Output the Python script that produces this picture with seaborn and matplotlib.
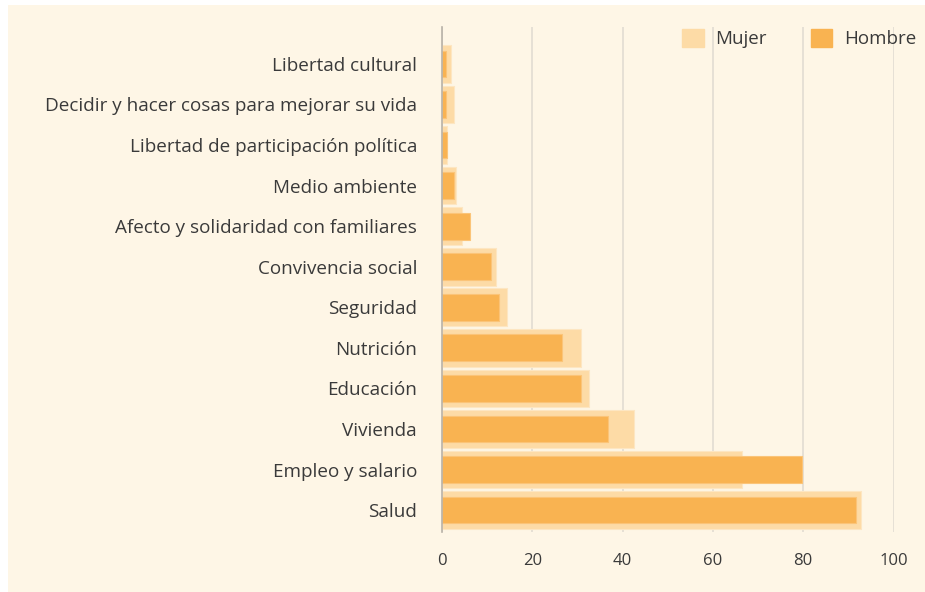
import matplotlib.pyplot as plt
import matplotlib.patches as mpatches
import pandas as pd
import seaborn as sns

# ===== DATA =====
temas = [
    "Libertad cultural",
    "Decidir y hacer cosas para mejorar su vida",
    "Libertad de participación política",
    "Medio ambiente",
    "Afecto y solidaridad con familiares",
    "Convivencia social",
    "Seguridad",
    "Nutrición",
    "Educación",
    "Vivienda",
    "Empleo y salario",
    "Salud",
]
mujer = [1.9, 2.7, 1.0, 3.2, 4.4, 11.9, 14.5, 30.8, 32.5, 42.5, 66.4, 92.8]
hombre = [0.8, 0.8, 1.2, 2.6, 6.2, 10.9, 12.6, 26.5, 30.8, 36.7, 79.8, 91.7]
x_ticks = [0, 20, 40, 60, 80, 100]

BG = "#fef6e6"
C_MUJER = "#fddba6"
C_HOMBRE = "#f9b351"
TXT = "#3a3a3a"

df = pd.DataFrame({"tema": temas, "Mujer": mujer, "Hombre": hombre})

sns.set_style("white")
plt.rcParams["font.family"] = ["Open Sans", "DejaVu Sans"]

fig = plt.figure(figsize=(9.25, 5.92), dpi=100, facecolor="white")
fig.patches.append(mpatches.Rectangle((8 / 925, 0), 1, 1 - 5 / 592,
                                      transform=fig.transFigure,
                                      facecolor=BG, edgecolor="none", zorder=-10))
ax = fig.add_axes([442 / 925, 1 - 532 / 592, (893.5 - 442) / 925, (532 - 27) / 592])
ax.set_facecolor(BG)

# ===== BARS =====
sns.barplot(data=df, y="tema", x="Mujer", order=temas, orient="h",
            color=C_MUJER, width=0.93, saturation=1, ax=ax,
            edgecolor="#fde6c2", linewidth=0.8, zorder=2)
sns.barplot(data=df, y="tema", x="Hombre", order=temas, orient="h",
            color=C_HOMBRE, width=0.66, saturation=1, ax=ax,
            edgecolor="#fbc478", linewidth=0.8, zorder=3)

ax.set_xlim(0, 100)
ax.set_ylim(11 + 0.54, -0.91)
ax.set_xticks(x_ticks)
ax.set_xlabel("")
ax.set_ylabel("")

ax.grid(axis="x", color="#e2dcd2", linewidth=1.2, zorder=0)
ax.grid(axis="y", visible=False)
for side in ["top", "right", "bottom"]:
    ax.spines[side].set_visible(False)
ax.spines["left"].set_color("#b8b2a8")
ax.spines["left"].set_linewidth(1.2)
ax.spines["left"].set_zorder(4)

ax.tick_params(axis="y", length=0, pad=18, labelsize=13.6, labelcolor=TXT)
ax.tick_params(axis="x", length=0, pad=15, labelsize=12, labelcolor=TXT)

# ===== LEGEND =====
handles = [mpatches.Patch(color=C_MUJER, label="Mujer"),
           mpatches.Patch(color=C_HOMBRE, label="Hombre")]
leg = ax.legend(handles=handles, loc="upper right", ncol=2, frameon=False,
                bbox_to_anchor=(1.087, 1.03), fontsize=13.5,
                handlelength=1.15, handleheight=1.15, handletextpad=0.6,
                columnspacing=2.35)
for t in leg.get_texts():
    t.set_color(TXT)

plt.savefig("out.png", dpi=100, facecolor=fig.get_facecolor())
plt.close()
